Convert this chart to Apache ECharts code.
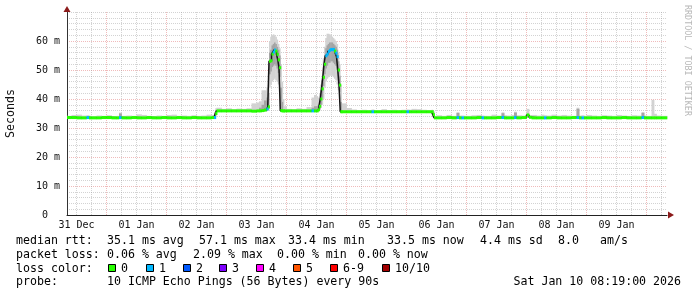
<!DOCTYPE html>
<html><head><meta charset="utf-8">
<script src="https://cdn.jsdelivr.net/npm/echarts@6/dist/echarts.min.js"></script>
<style>html,body{margin:0;padding:0;background:#fff}#c{width:697px;height:297px}</style>
</head><body><div id="c"></div>
<script>
// Hours relative to 01 Jan 00:00. Window: ~Dec 31 08:12 -> Jan 10 08:12 (10 days)
const startHour = -15.8;
const endHour = 224.2;

// sample start times (hours)
const times = [
  -15.8,-14,-12,-10,-8,-7,-6,-4,-2,0,2,4,5,6,8,10,12,14,16,18,20,22,24,26,28,30,32,34,36,38,40,42,43,43.5,
  44,46,48,50,52,54,56,58,60,61,62,63,64,64.5,
  65,65.5,66,66.5,67,67.5,68,68.5,69,69.5,70,70.5,71,
  72,74,76,78,80,82,83,84,84.5,
  85,85.5,86,86.5,87,87.5,88,88.5,89,89.5,90,90.5,91,91.5,92,92.5,93,93.5,94,
  96,98,100,102,104,106,107,108,110,112,114,116,118,120,121,122,124,126,128,130,130.5,
  131,132,134,136,138,140,141,142,143,144,146,148,150,151,152,154,156,158,159,160,162,163,164,166,
  168,169,170,172,174,175,176,178,180,182,184,186,188,189,190,191,192,194,196,198,
  200,202,204,206,208,210,212,214,215,216,218,219,220,222
];
// median rtt (ms)
const median = [
  33.6,33.6,33.5,33.5,33.6,33.5,33.5,33.5,33.6,33.6,33.5,33.5,33.6,33.5,33.5,33.6,33.5,33.5,33.6,33.5,33.5,33.6,33.5,33.5,33.6,33.5,33.5,33.6,33.5,33.5,33.5,33.6,33.6,35.0,
  35.9,35.9,35.9,35.9,35.9,35.9,35.9,35.8,35.9,35.9,36.0,36.2,36.6,37.3,
  53.0,53.2,55.5,56.2,56.9,56.5,55.4,53.5,50.8,36.0,35.9,35.9,35.9,
  35.9,35.9,35.9,35.9,35.9,35.9,35.9,35.9,36.3,
  37.5,40.0,43.5,47.5,52.0,54.9,55.5,56.4,56.8,57.1,57.0,57.1,56.5,55.8,54.6,50.0,44.8,35.6,35.6,
  35.6,35.6,35.6,35.6,35.6,35.6,35.6,35.6,35.6,35.6,35.6,35.6,35.6,35.6,35.6,35.6,35.6,35.6,35.6,35.6,34.6,
  33.5,33.5,33.5,33.6,33.5,33.6,33.5,33.5,33.5,33.5,33.5,33.6,33.5,33.5,33.5,33.5,33.6,33.6,33.5,33.5,33.5,33.6,33.5,33.6,
  34.5,33.7,33.5,33.5,33.5,33.5,33.5,33.6,33.5,33.5,33.5,33.6,33.6,33.5,33.5,33.5,33.5,33.5,33.5,33.6,
  33.5,33.5,33.5,33.6,33.5,33.5,33.5,33.6,33.5,33.5,33.5,33.5,33.5,33.5
];
// lost pings per sample (out of 10)
const loss = [
  0,0,0,0,1,0,0,0,0,0,0,0,1,0,0,0,0,0,0,0,0,0,0,0,0,0,0,0,0,0,0,0,1,0,
  0,0,0,0,0,0,0,0,0,0,0,0,1,0,
  0,0,0,1,1,0,0,0,0,0,0,0,0,
  0,0,0,0,0,1,0,0,0,
  0,0,0,0,0,1,1,1,1,1,1,1,0,1,1,0,0,0,0,
  0,0,0,0,0,1,0,0,0,0,0,0,0,1,0,0,0,0,0,0,0,
  0,0,0,0,0,1,0,1,0,0,0,0,1,0,0,0,0,1,0,0,0,1,0,0,
  0,0,0,0,0,1,0,0,0,0,0,0,1,0,1,0,0,0,0,0,
  0,0,0,0,0,0,0,1,0,0,0,0,0,0
];
// fastest / slowest ping (ms) — outer smoke
const smokeLo = [
  33.2,33.2,33.2,33.2,33.2,33.2,33.2,33.2,33.2,33.2,33.2,33.2,33.2,33.2,33.2,33.2,33.2,33.2,33.2,33.2,33.2,33.2,33.2,33.2,33.2,33.2,33.2,33.2,33.2,33.2,33.2,33.2,33.3,34.0,
  35.5,35.5,35.5,35.5,35.5,35.5,35.5,35.5,35.5,35.5,35.6,35.7,35.8,36.0,
  44.0,45.0,46.0,46.5,47.0,46.5,46.0,45.0,44.0,35.6,35.5,35.5,35.5,
  35.5,35.5,35.5,35.5,35.5,35.5,35.5,35.5,35.7,
  36.0,37.0,38.0,40.0,44.0,46.0,47.0,47.5,48.0,48.0,48.0,47.5,47.0,46.5,45.0,43.0,40.0,35.3,35.3,
  35.2,35.2,35.2,35.2,35.2,35.2,35.2,35.2,35.2,35.2,35.2,35.2,35.2,35.2,35.2,35.2,35.2,35.2,35.2,35.2,33.8,
  33.2,33.2,33.2,33.2,33.2,33.2,33.2,33.2,33.2,33.2,33.2,33.2,33.2,33.2,33.2,33.2,33.2,33.2,33.2,33.2,33.2,33.2,33.2,33.2,
  33.5,33.2,33.2,33.2,33.2,33.2,33.2,33.2,33.2,33.2,33.2,33.2,33.2,33.2,33.2,33.2,33.2,33.2,33.2,33.2,
  33.2,33.2,33.2,33.2,33.2,33.2,33.2,33.2,33.2,33.2,33.2,33.2,33.2,33.2
];
const smokeHi = [
  34.2,34.5,34.6,34.3,34.4,34.2,34.1,34.3,34.2,34.4,34.1,34.2,35.3,34.2,34.3,34.2,34.7,34.5,34.2,34.1,34.3,34.2,34.5,34.6,34.2,34.3,34.2,34.4,34.2,34.3,34.6,34.5,35.5,36.8,
  37.0,36.6,36.8,36.5,36.7,36.6,36.8,38.5,38.8,39.2,43.0,43.0,44.0,45.0,
  60.0,61.5,62.0,62.3,62.0,61.5,60.5,59.0,57.5,52.0,46.0,40.0,37.5,
  36.6,36.5,36.8,36.6,37.2,40.5,41.4,41.0,40.5,
  42.0,45.0,48.0,54.0,58.0,61.0,62.5,62.5,62.3,62.0,61.5,61.0,60.5,60.0,59.0,56.0,52.0,45.0,38.5,
  36.9,36.4,36.2,36.3,36.1,36.4,36.2,36.2,36.5,36.2,36.3,36.1,36.3,36.4,36.3,36.6,36.5,36.3,36.2,36.3,35.8,
  34.2,34.4,34.2,34.5,34.2,35.4,34.3,34.3,34.2,34.2,34.4,34.5,34.3,34.2,34.2,34.6,34.3,35.4,34.4,34.3,34.5,35.6,34.4,34.3,
  36.6,34.4,34.5,34.3,34.6,34.4,34.3,34.6,34.3,34.5,34.3,34.2,37.0,34.3,34.4,34.2,34.5,34.3,34.2,34.4,
  34.3,34.2,34.5,34.3,34.2,34.4,34.3,35.5,34.3,34.2,39.7,34.9,34.3,34.2
];
// dense middle of the ping distribution (ms) — dark smoke
const N = null;
const coreLo = [
  N,N,N,N,N,N,N,N,N,N,N,N,33.6,N,N,N,N,N,N,N,N,N,N,N,N,N,N,N,N,N,N,N,33.6,34.5,
  N,N,N,N,N,N,N,N,N,35.8,35.9,36.0,36.0,36.5,
  48.5,49.5,51.0,51.5,52.0,51.5,50.5,49.0,47.5,35.8,35.8,N,N,
  N,N,N,N,N,35.8,35.8,35.8,36.0,
  36.5,38.0,40.5,44.5,48.5,50.5,51.5,52.5,52.5,53.0,53.0,52.5,52.0,51.5,50.0,46.5,42.5,35.5,N,
  N,N,N,N,N,N,N,N,N,N,N,N,N,N,N,N,N,N,N,N,34.0,
  N,N,N,N,N,33.6,N,N,N,N,N,N,N,N,N,N,N,33.6,N,N,N,33.6,N,N,
  N,N,N,N,N,N,N,N,N,N,N,N,33.6,N,N,N,N,N,N,N,
  N,N,N,N,N,N,N,33.6,N,N,N,N,N,N
];
const coreHi = [
  N,N,N,N,N,N,N,N,N,N,N,N,35.0,N,N,N,N,N,N,N,N,N,N,N,N,N,N,N,N,N,N,N,34.8,36.0,
  N,N,N,N,N,N,N,N,N,37.0,38.0,39.5,40.5,42.0,
  56.0,57.0,58.5,59.0,59.5,59.0,58.0,57.0,55.0,44.0,39.0,N,N,
  N,N,N,N,N,37.0,37.5,37.5,38.0,
  40.0,43.0,46.5,51.0,55.0,57.5,58.5,59.0,59.5,59.5,59.5,59.0,58.5,58.0,57.0,53.0,48.0,39.0,N,
  N,N,N,N,N,N,N,N,N,N,N,N,N,N,N,N,N,N,N,N,35.6,
  N,N,N,N,N,35.2,N,N,N,N,N,N,N,N,N,N,N,35.1,N,N,N,35.3,N,N,
  N,N,N,N,N,N,N,N,N,N,N,N,36.6,N,N,N,N,N,N,N,
  N,N,N,N,N,N,N,35.2,N,N,N,N,N,N
];

// axis ticks
const dayLabels = ['31 Dec','01 Jan','02 Jan','03 Jan','04 Jan','05 Jan','06 Jan','07 Jan','08 Jan','09 Jan'];
const dayLabelHours = [-12,12,36,60,84,108,132,156,180,204];
const midnightHours = [0,24,48,72,96,120,144,168,192,216];

// legend texts
const rttStats = ['35.1 ms avg','57.1 ms max','33.4 ms min','33.5 ms now','4.4 ms sd','8.0','am/s'];
const lossStats = ['0.06 % avg','2.09 % max','0.00 % min','0.00 % now'];
const lossNames = ['0','1','2','3','4','5','6-9','10/10'];
const lossColors = ['#26ff00','#00b8ff','#0059ff','#7e00ff','#ff00ff','#ff5500','#ff0000','#a10000'];
const probeText = '10 ICMP Echo Pings (56 Bytes) every 90s';
const stampText = 'Sat Jan 10 08:19:00 2026';

const mono = "'DejaVu Sans Mono', monospace";
const legendFont = '11.6px ' + mono;
const minorGrid = 'rgba(150,150,150,0.42)';
const majorGrid = 'rgba(225,120,120,0.5)';

const minorHours = [];
for (let h = -12; h <= 222; h += 6) if (h % 24 !== 0) minorHours.push(h);

function tEnd(i) { return i + 1 < times.length ? times[i + 1] : endHour; }

function bandRender(loArr, hiArr, color) {
  return function (params, api) {
    const i = params.dataIndex;
    if (loArr[i] == null || hiArr[i] == null) return null;
    const a = api.coord([times[i], hiArr[i]]);
    const b = api.coord([tEnd(i), loArr[i]]);
    return { type: 'rect', shape: { x: a[0], y: a[1], width: b[0] - a[0] + 0.4, height: b[1] - a[1] }, style: { fill: color } };
  };
}

const baseData = times.map((t, i) => [t, median[i]]);
const lineData = baseData.concat([[endHour, median[median.length - 1]]]);

function txt(x, y, s, align) {
  return { type: 'text', x: x, y: y, silent: true,
    style: { text: s, font: legendFont, fill: '#000', align: align || 'left', textAlign: align || 'left', verticalAlign: 'middle', textVerticalAlign: 'middle' } };
}
const graphics = [];
graphics.push(txt(16, 241, 'median rtt:'));
const rttX = [107, 199, 288, 387, 480, 558, 600];
rttStats.forEach((s, k) => graphics.push(txt(rttX[k], 241, s)));
graphics.push(txt(16, 255, 'packet loss:'));
const lossX = [107, 193, 277, 358];
lossStats.forEach((s, k) => graphics.push(txt(lossX[k], 255, s)));
graphics.push(txt(16, 268.5, 'loss color:'));
const sqX = [108, 146, 183, 219, 256, 293, 330, 382];
lossNames.forEach((s, k) => {
  graphics.push({ type: 'rect', silent: true, shape: { x: sqX[k] + 0.5, y: 264.5, width: 7, height: 7 },
    style: { fill: lossColors[k], stroke: '#000', lineWidth: 1 } });
  graphics.push(txt(sqX[k] + 13, 268.5, s));
});
graphics.push(txt(16, 282, 'probe:'));
graphics.push(txt(107, 282, probeText));
graphics.push(txt(681, 282, stampText, 'right'));
graphics.push({ type: 'text', x: 691, y: 5, rotation: -Math.PI / 2, silent: true,
  style: { text: 'RRDTOOL / TOBI OETIKER', font: '8.4px ' + mono, fill: '#b8b8b8', align: 'left', textAlign: 'left', verticalAlign: 'top', textVerticalAlign: 'top' } });

const chart = echarts.init(document.getElementById('c'), null, { renderer: 'canvas' });
chart.setOption({
  animation: false,
  backgroundColor: '#ffffff',
  textStyle: { fontFamily: mono },
  grid: { left: 67, right: 30, top: 12, bottom: 82, containLabel: false, outerBoundsMode: 'none' },
  xAxis: [{
    type: 'value', min: startHour, max: endHour,
    axisLine: { show: true, onZero: false, lineStyle: { color: '#222', width: 1 } },
    axisTick: { show: false },
    splitLine: { show: false },
    axisLabel: { show: true, customValues: dayLabelHours, margin: 5, fontFamily: mono, fontSize: 10, color: '#111',
      formatter: v => { const k = dayLabelHours.indexOf(v); return k >= 0 ? dayLabels[k] : ''; } }
  }, {
    type: 'value', min: startHour, max: endHour, position: 'bottom',
    axisLine: { show: true, onZero: false, symbol: ['none', 'triangle'], symbolSize: [7, 6], symbolOffset: [0, 4],
      lineStyle: { color: '#8b1a1a', width: 0 } },
    axisTick: { show: false }, axisLabel: { show: false }, splitLine: { show: false }
  }],
  yAxis: [{
    type: 'value', min: 0, max: 70, interval: 10,
    name: 'Seconds', nameLocation: 'middle', nameGap: 50, nameRotate: 90,
    nameTextStyle: { fontFamily: mono, fontSize: 11.6, color: '#111' },
    axisLine: { show: true, onZero: false, lineStyle: { color: '#333', width: 1 } },
    axisTick: { show: false },
    axisLabel: { margin: 7, fontFamily: mono, fontSize: 10, color: '#111',
      formatter: v => v === 70 ? '' : (v === 0 ? '0  ' : v + ' m') },
    splitLine: { show: true, lineStyle: { type: 'dotted', width: 1,
      color: [majorGrid, majorGrid, majorGrid, majorGrid, majorGrid, majorGrid, majorGrid, minorGrid] } },
    minorTick: { show: false, splitNumber: 5 },
    minorSplitLine: { show: true, lineStyle: { type: 'dotted', width: 1, color: minorGrid } }
  }, {
    type: 'value', min: 0, max: 70, position: 'left',
    axisLine: { show: true, onZero: false, symbol: ['none', 'triangle'], symbolSize: [7, 6], symbolOffset: [0, 3],
      lineStyle: { color: '#8b1a1a', width: 0 } },
    axisTick: { show: false }, axisLabel: { show: false }, splitLine: { show: false }
  }],
  graphic: { elements: graphics },
  series: [
    { type: 'line', z: 1, silent: true, data: [[startHour, null]], symbol: 'none',
      markLine: { silent: true, z: 1, animation: false, symbol: ['none', 'none'], label: { show: false },
        data: minorHours.map(h => ({ xAxis: h, lineStyle: { color: minorGrid, type: 'dotted', width: 1 } }))
          .concat(midnightHours.map(h => ({ xAxis: h, lineStyle: { color: majorGrid, type: 'dotted', width: 1 } }))) } },
    { type: 'custom', z: 2, silent: true, data: baseData, renderItem: bandRender(smokeLo, smokeHi, '#d2d2d2') },
    { type: 'custom', z: 3, silent: true, data: baseData, renderItem: bandRender(coreLo, coreHi, '#a4a4a4') },
    { type: 'line', z: 4, silent: true, data: lineData, step: 'end', symbol: 'none',
      lineStyle: { color: '#151515', width: 1.5 } },
    { type: 'custom', z: 5, silent: true, data: baseData,
      renderItem: function (params, api) {
        const i = params.dataIndex;
        const a = api.coord([times[i], median[i]]);
        const b = api.coord([tEnd(i), median[i]]);
        return { type: 'rect', shape: { x: a[0], y: a[1] - 1.5, width: Math.max(b[0] - a[0] + 0.3, 2.2), height: 3 },
          style: { fill: lossColors[loss[i]] } };
      } }
  ]
});
</script>
</body></html>
